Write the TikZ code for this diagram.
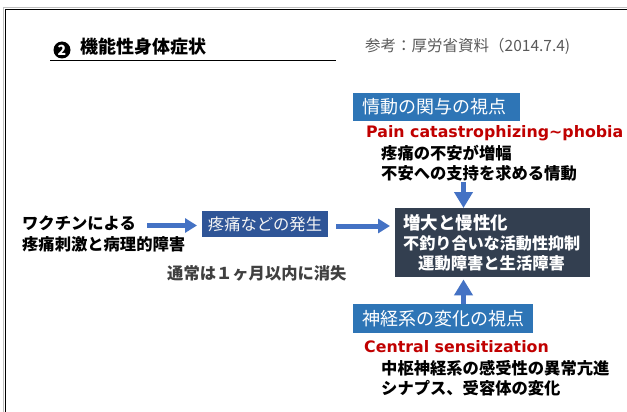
\documentclass[tikz,border=0pt]{standalone}
\usepackage{fontspec}
\setmainfont{Noto Sans CJK JP}
\newfontfamily\latinfont{DejaVu Sans}
\usetikzlibrary{arrows.meta}
\definecolor{boxblue}{HTML}{2E75B6}
\definecolor{midblue}{HTML}{2F5597}
\definecolor{darkslate}{HTML}{333F50}
\definecolor{arrowblue}{HTML}{4472C4}
\definecolor{redtxt}{HTML}{C00000}
\definecolor{graytxt}{HTML}{595959}
\tikzset{
  txt/.style={anchor=west,inner sep=0pt,font=\fontsize{16.3}{20}\selectfont\bfseries},
  redlbl/.style={anchor=west,inner sep=0pt,text=redtxt,font=\latinfont\fontsize{15.8}{20}\selectfont\bfseries},
  viewbox/.style={fill=boxblue,text=white,inner sep=0pt,font=\fontsize{18}{22}\selectfont},
  flow/.style={draw=arrowblue,line width=5pt,-{Triangle[length=12pt,width=14pt]}},
  vflow/.style={draw=arrowblue,line width=5.5pt,-{Triangle[length=16pt,width=18pt]}},
}
\begin{document}
\begin{tikzpicture}[x=1pt,y=-1pt]
\useasboundingbox (0,0) rectangle (627,412);
% frame
\draw[gray!50,line width=1pt] (3.5,412) -- (3.5,8) -- (627,8);
\draw[black,line width=1.5pt] (5.5,412) -- (5.5,9.5) -- (627,9.5);
% title
\node[circle,fill=black,text=white,inner sep=0pt,minimum size=17pt,font=\fontsize{14}{16}\selectfont\bfseries] (num) at (62,50) {2};
\node[anchor=west,inner sep=0pt,font=\fontsize{18}{22}\selectfont\bfseries] (title) at (80,47) {機能性身体症状};
\coordinate (ulA) at (50,60.5);
\coordinate (ulB) at (336,60.5);
\draw[line width=1.3pt] (ulA) -- (ulB);
\node[anchor=west,inner sep=0pt,text=graytxt,font=\fontsize{15.5}{19}\selectfont] (ref) at (365,46) {参考：厚労省資料（2014.7.4)};
% left source
\node[txt] (src1) at (22,223) {ワクチンによる};
\node[txt] (src2) at (22,244) {疼痛刺激と病理的障害};
\node[fill=midblue,text=white!92!gray,inner sep=0pt,minimum width=126pt,minimum height=26pt,font=\fontsize{16.3}{20}\selectfont] (occur) at (265,224) {疼痛などの発生};
\node[anchor=west,inner sep=0pt,text=black!75,font=\fontsize{16.3}{20}\selectfont\bfseries] (usual) at (167,273) {通常は１ヶ月以内に消失};
% central box
\node[fill=darkslate,text=white,inner sep=0pt,minimum width=195pt,minimum height=69pt,anchor=north west] (chronic) at (395,208) {};
\node[anchor=west,inner sep=0pt,text=white,font=\fontsize{17.5}{20}\selectfont\bfseries] (ch1) at (403,223) {増大と慢性化};
\node[anchor=west,inner sep=0pt,text=white,font=\fontsize{16.1}{20}\selectfont\bfseries] (ch2) at (403,243) {不釣り合いな活動性抑制};
\node[anchor=west,inner sep=0pt,text=white,font=\fontsize{16.3}{20}\selectfont\bfseries] (ch3) at (418,263) {運動障害と生活障害};
% top view
\node[viewbox,minimum width=167pt,minimum height=28pt,anchor=north west] (emo) at (353,93) {};
\node[anchor=west,inner sep=0pt,text=white,font=\fontsize{18}{22}\selectfont] (emot) at (362,107) {情動の関与の視点};
\node[redlbl] (pain) at (366,133) {Pain catastrophizing\textasciitilde phobia};
\node[txt] (e1) at (381,153) {疼痛の不安が増幅};
\node[txt] (e2) at (381,173) {不安への支持を求める情動};
% bottom view
\node[viewbox,minimum width=180pt,minimum height=29pt,anchor=north west] (neu) at (353,304) {};
\node[anchor=west,inner sep=0pt,text=white,font=\fontsize{18}{22}\selectfont] (neut) at (362,318.5) {神経系の変化の視点};
\node[redlbl] (cs) at (364,347) {Central sensitization};
\node[txt] (n1) at (381,368) {中枢神経系の感受性の異常亢進};
\node[txt] (n2) at (381,388) {シナプス、受容体の変化};
% arrows
\coordinate (a1s) at (147,225.5);
\coordinate (a1e) at (197,225.5);
\draw[flow] (a1s) -- (a1e);
\coordinate (a2s) at (336,226);
\coordinate (a2e) at (390,226);
\draw[flow] (a2s) -- (a2e);
\coordinate (a3s) at (463.5,182);
\draw[vflow] (a3s) -- (chronic.north -| a3s);
\coordinate (a4s) at (463.5,304);
\draw[vflow] (a4s) -- ([yshift=-2pt]chronic.south -| a4s);
\end{tikzpicture}
\end{document}
